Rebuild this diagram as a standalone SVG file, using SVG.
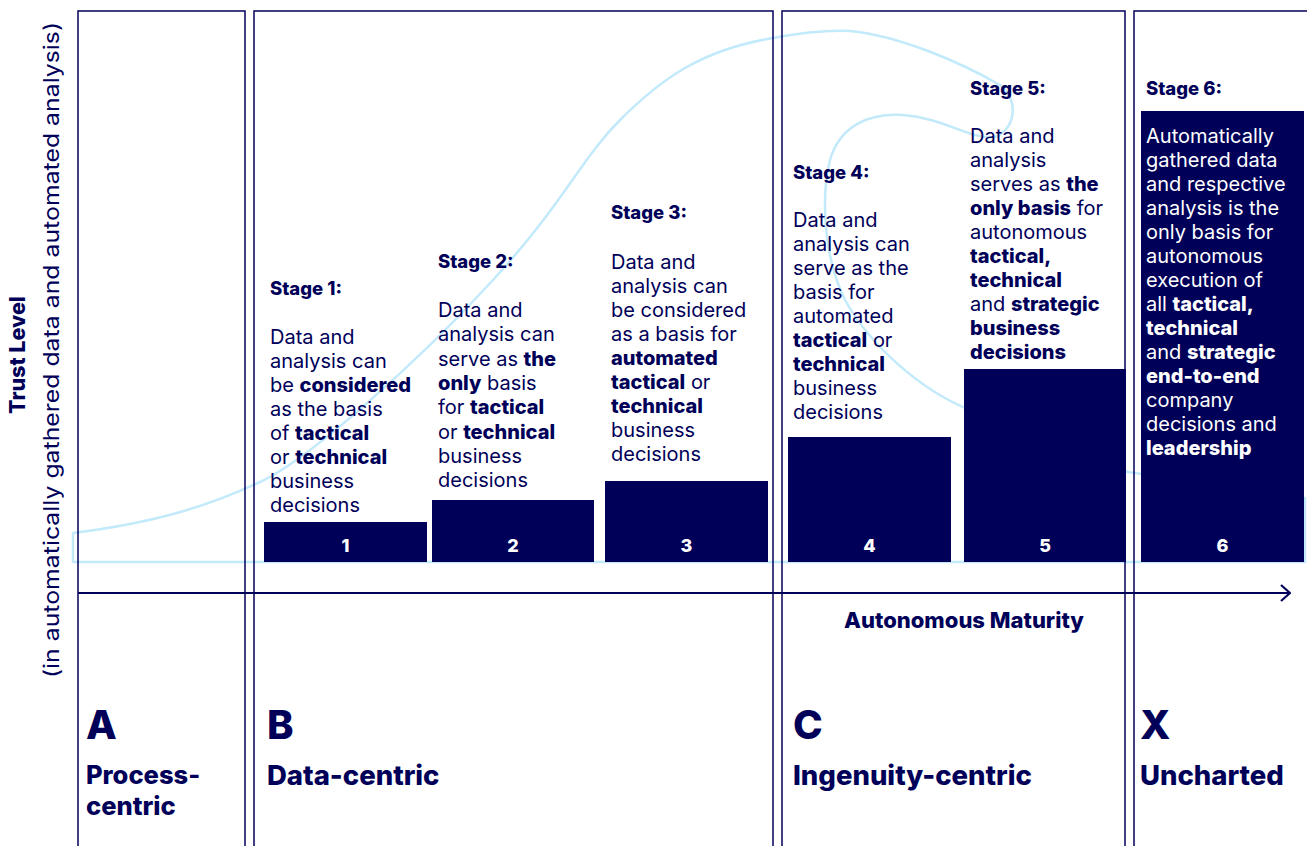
<svg xmlns="http://www.w3.org/2000/svg" width="1307" height="846" viewBox="0 0 1307 846">
<style>
.col{fill:none;stroke:#000059;stroke-width:1.5}
.bar{fill:#000059}
.num{font-family:Inter,"Liberation Sans",sans-serif;font-weight:800;font-size:18px;fill:#fff;text-anchor:middle}
.hd{font-family:Inter,"Liberation Sans",sans-serif;font-weight:800;font-size:18.5px;fill:#000059}
.bd{font-family:Inter,"Liberation Sans",sans-serif;font-size:20px;fill:#000059}
.w{fill:#fff}
.b{font-weight:800}
.big{font-family:Inter,"Liberation Sans",sans-serif;font-weight:800;font-size:40px;fill:#000059}
.cat{font-family:Inter,"Liberation Sans",sans-serif;font-weight:800;font-size:27.5px;fill:#000059}
.ax{font-family:Inter,"Liberation Sans",sans-serif;font-weight:800;font-size:22px;fill:#000059}
</style>
<defs>
<marker id="chev" viewBox="0 0 12 20" refX="11" refY="10" markerWidth="12" markerHeight="20" markerUnits="userSpaceOnUse" orient="auto">
<path d="M2,2 L11,10 L2,18" fill="none" stroke="#000059" stroke-width="2.2"/>
</marker>
</defs>
<rect width="1307" height="846" fill="#fff"/>
<g id="curve">
<path d="M73,533 C160,522 210,505 260,482 S420,360 493,280 S580,160 620,120 C660,80 700,50 773,38 C800,33 830,30 850,31 C900,36 960,62 1000,85 C1020,100 1015,130 995,137 C970,140 945,118 903,115 C870,113 840,125 830,160 C820,200 825,260 845,300 C870,345 920,390 970,410 L1128,472 L1305,498 L1305,562 L73,562 Z" fill="none" stroke="#c2eafb" stroke-width="2.5" stroke-linejoin="round"/>
</g>
<g id="columns">
<rect id="colA" class="col" x="78" y="11" width="167" height="845"/>
<rect id="colB" class="col" x="254" y="11" width="519" height="845"/>
<rect id="colC" class="col" x="782" y="11" width="343" height="845"/>
<rect id="colX" class="col" x="1134" y="11" width="190" height="845"/>
</g>
<g id="connectors">
<line x1="78" y1="593" x2="1290" y2="593" stroke="#000059" stroke-width="2.2" marker-end="url(#chev)"/>
</g>
<g id="axis-labels">
<text class="ax" x="964" y="628" text-anchor="middle">Autonomous Maturity</text>
<text class="hd" transform="translate(25,355) rotate(-90)" text-anchor="middle" style="font-size:21.5px">Trust Level</text>
<text class="bd" transform="translate(59,350) rotate(-90)" text-anchor="middle" style="font-size:21.5px" textLength="656" lengthAdjust="spacingAndGlyphs">(in automatically gathered data and automated analysis)</text>
</g>
<g id="stage1">
<rect class="bar" x="264" y="522" width="163" height="40"/>
<text class="num" x="345.5" y="552">1</text>
<text class="hd" x="270" y="295">Stage 1:</text>
<text class="bd" x="270" y="344">Data and</text>
<text class="bd" x="270" y="368">analysis can</text>
<text class="bd" x="270" y="392">be <tspan class="b">considered</tspan></text>
<text class="bd" x="270" y="416">as the basis</text>
<text class="bd" x="270" y="440">of <tspan class="b">tactical</tspan></text>
<text class="bd" x="270" y="464">or <tspan class="b">technical</tspan></text>
<text class="bd" x="270" y="488">business</text>
<text class="bd" x="270" y="512">decisions</text>
</g>
<g id="stage2">
<rect class="bar" x="432" y="500" width="162" height="62"/>
<text class="num" x="513" y="552">2</text>
<text class="hd" x="438" y="268">Stage 2:</text>
<text class="bd" x="438" y="317">Data and</text>
<text class="bd" x="438" y="341">analysis can</text>
<text class="bd" x="438" y="366">serve as <tspan class="b">the</tspan></text>
<text class="bd" x="438" y="390"><tspan class="b">only</tspan> basis</text>
<text class="bd" x="438" y="414">for <tspan class="b">tactical</tspan></text>
<text class="bd" x="438" y="439">or <tspan class="b">technical</tspan></text>
<text class="bd" x="438" y="463">business</text>
<text class="bd" x="438" y="487">decisions</text>
</g>
<g id="stage3">
<rect class="bar" x="605" y="481" width="163" height="81"/>
<text class="num" x="686.5" y="552">3</text>
<text class="hd" x="611" y="219">Stage 3:</text>
<text class="bd" x="611" y="269">Data and</text>
<text class="bd" x="611" y="293">analysis can</text>
<text class="bd" x="611" y="317">be considered</text>
<text class="bd" x="611" y="341">as a basis for</text>
<text class="bd" x="611" y="365"><tspan class="b">automated</tspan></text>
<text class="bd" x="611" y="389"><tspan class="b">tactical</tspan> or</text>
<text class="bd" x="611" y="413"><tspan class="b">technical</tspan></text>
<text class="bd" x="611" y="437">business</text>
<text class="bd" x="611" y="461">decisions</text>
</g>
<g id="stage4">
<rect class="bar" x="788" y="437" width="163" height="125"/>
<text class="num" x="869.5" y="552">4</text>
<text class="hd" x="793" y="179">Stage 4:</text>
<text class="bd" x="793" y="227">Data and</text>
<text class="bd" x="793" y="251">analysis can</text>
<text class="bd" x="793" y="275">serve as the</text>
<text class="bd" x="793" y="299">basis for</text>
<text class="bd" x="793" y="323">automated</text>
<text class="bd" x="793" y="347"><tspan class="b">tactical</tspan> or</text>
<text class="bd" x="793" y="371"><tspan class="b">technical</tspan></text>
<text class="bd" x="793" y="395">business</text>
<text class="bd" x="793" y="419">decisions</text>
</g>
<g id="stage5">
<rect class="bar" x="964" y="369" width="162" height="193"/>
<text class="num" x="1045" y="552">5</text>
<text class="hd" x="970" y="95">Stage 5:</text>
<text class="bd" x="970" y="143">Data and</text>
<text class="bd" x="970" y="167">analysis</text>
<text class="bd" x="970" y="191">serves as <tspan class="b">the</tspan></text>
<text class="bd" x="970" y="215"><tspan class="b">only basis</tspan> for</text>
<text class="bd" x="970" y="239">autonomous</text>
<text class="bd" x="970" y="263"><tspan class="b">tactical,</tspan></text>
<text class="bd" x="970" y="287"><tspan class="b">technical</tspan></text>
<text class="bd" x="970" y="311">and <tspan class="b">strategic</tspan></text>
<text class="bd" x="970" y="335"><tspan class="b">business</tspan></text>
<text class="bd" x="970" y="359"><tspan class="b">decisions</tspan></text>
</g>
<g id="stage6">
<rect class="bar" x="1141" y="111" width="163" height="451"/>
<text class="num" x="1222.5" y="552">6</text>
<text class="hd" x="1146" y="95">Stage 6:</text>
<text class="bd w" x="1146" y="143">Automatically</text>
<text class="bd w" x="1146" y="167">gathered data</text>
<text class="bd w" x="1146" y="191">and respective</text>
<text class="bd w" x="1146" y="215">analysis is the</text>
<text class="bd w" x="1146" y="239">only basis for</text>
<text class="bd w" x="1146" y="263">autonomous</text>
<text class="bd w" x="1146" y="287">execution of</text>
<text class="bd w" x="1146" y="311">all <tspan class="b">tactical,</tspan></text>
<text class="bd w" x="1146" y="335"><tspan class="b">technical</tspan></text>
<text class="bd w" x="1146" y="359">and <tspan class="b">strategic</tspan></text>
<text class="bd w" x="1146" y="383"><tspan class="b">end-to-end</tspan></text>
<text class="bd w" x="1146" y="407">company</text>
<text class="bd w" x="1146" y="431">decisions and</text>
<text class="bd w" x="1146" y="455"><tspan class="b">leadership</tspan></text>
</g>
<g id="catA">
<text class="big" x="86" y="739">A</text>
<text class="cat" x="86" y="784" style="font-size:25.5px">Process-</text>
<text class="cat" x="86" y="815" style="font-size:25.5px">centric</text>
</g>
<g id="catB">
<text class="big" x="267" y="739">B</text>
<text class="cat" x="267" y="785">Data-centric</text>
</g>
<g id="catC">
<text class="big" x="793" y="739">C</text>
<text class="cat" x="793" y="785">Ingenuity-centric</text>
</g>
<g id="catX">
<text class="big" x="1140" y="739">X</text>
<text class="cat" x="1140" y="785">Uncharted</text>
</g>
</svg>
